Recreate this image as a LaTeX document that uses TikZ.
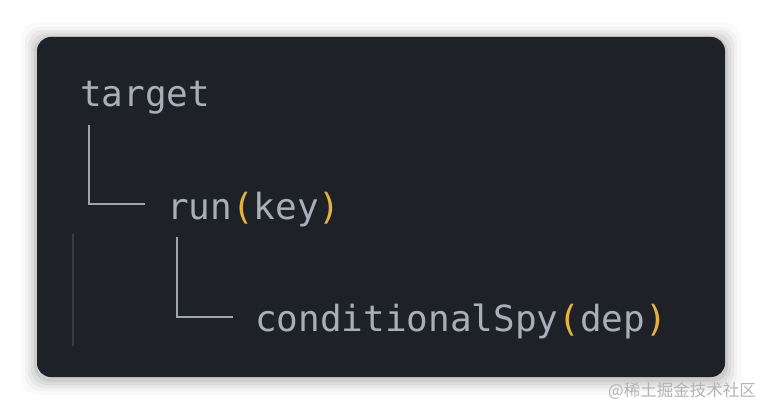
\documentclass[tikz,border=0pt]{standalone}
\usepackage{fontspec}
\setmonofont{DejaVu Sans Mono}
\newfontfamily\cjk{Noto Sans CJK SC}
\usetikzlibrary{positioning}
\definecolor{bgdark}{HTML}{1E2128}
\definecolor{codefg}{HTML}{A9AEB8}
\definecolor{paren}{HTML}{E5B33B}
\definecolor{guide}{HTML}{A0A4AD}
\definecolor{faint}{HTML}{383B42}
\definecolor{wm}{HTML}{B4B4B4}
\newcommand{\pp}[1]{\textcolor{paren}{#1}}
\tikzset{
  code/.style={inner sep=0pt, anchor=base west, text=codefg, font=\ttfamily\fontsize{36}{36}\selectfont},
  tree/.style={draw=guide, line width=2pt},
}
\begin{document}
\begin{tikzpicture}[x=1pt,y=-1pt]
\useasboundingbox (0,0) rectangle (762,414);
\fill[white] (0,0) rectangle (762,414);
% shadow
\foreach \s/\o in {16/0.02,12/0.03,9/0.04,6/0.05,3/0.07}{
  \fill[black, opacity=\o, rounded corners=16] (37-\s,39-\s) rectangle (725+\s,379+\s);
}
\fill[bgdark, rounded corners=14] (37,37) rectangle (725,377);
% faint indent guide
\draw[faint, line width=1.5pt] (73,234) -- (73,346);
% text nodes
\node[code] (target) at (80,107) {target};
\node[code] (run) at (167,219) {run\pp{(}key\pp{)}};
\node[code] (spy) at (255,331) {conditionalSpy\pp{(}dep\pp{)}};
% connectors
\coordinate (t1) at (89,125);
\coordinate (t2) at (145,204);
\coordinate (r1) at (177,237);
\coordinate (r2) at (233,317);
\draw[tree] (t1) |- (t2);
\draw[tree] (r1) |- (r2);
% watermark
\node[anchor=east, inner sep=0pt, text=wm, font=\cjk\fontsize{16.5}{16.5}\selectfont] (wmark) at (756,391) {@稀土掘金技术社区};
\end{tikzpicture}
\end{document}
